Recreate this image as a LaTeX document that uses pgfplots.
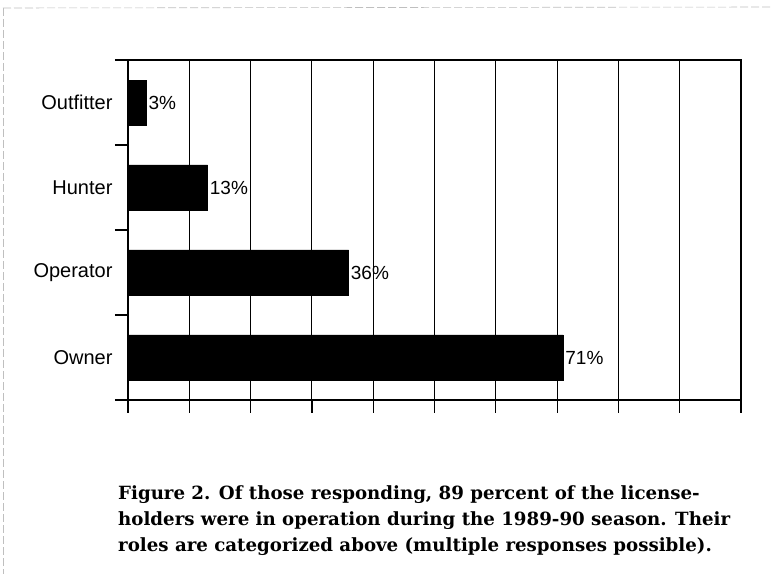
\documentclass[border=0pt]{standalone}
\usepackage{fontspec}
\setmainfont{Liberation Sans}
\newfontfamily\capfont{DejaVu Serif}
\usepackage{pgfplots}
\pgfplotsset{compat=1.18}

\begin{document}
\begin{tikzpicture}[x=1pt,y=1pt]
\path[use as bounding box] (0,0) rectangle (772,574);
% faint frame left by the scan
\draw[gray!50, line width=0.6pt, dash pattern=on 8pt off 3pt] (3,566) -- (3,0);
\draw[gray!50, line width=0.6pt, dash pattern=on 8pt off 3pt] (3,566) -- (772,567);
\begin{axis}[
  at={(128pt,174pt)}, anchor=south west,
  scale only axis, width=613pt, height=340pt,
  xbar, bar width=45pt,
  xmin=0, xmax=100, ymin=-0.5, ymax=3.5,
  xtick={0,10,...,100}, xticklabels={},
  ytick={-0.5,0.5,1.5,2.5,3.5}, yticklabels={},
  extra y ticks={0,1,2,3},
  extra y tick labels={Owner,Operator,Hunter,Outfitter},
  extra y tick style={major tick length=0pt, grid=none,
    yticklabel style={xshift=-12pt}},
  tick align=outside, xtick pos=bottom, ytick pos=left,
  major tick length=13pt,
  tick style={black, line width=1.2pt},
  xmajorgrids=true, ymajorgrids=false,
  grid style={black, line width=1pt},
  axis line style={black, line width=1.8pt},
  tick label style={font=\fontsize{20}{22}\selectfont},
  /pgf/number format/assume math mode=true,
  nodes near coords={\pgfmathprintnumber{\pgfplotspointmeta}\%},
  nodes near coords align=horizontal,
  every node near coord/.append style={font=\fontsize{19}{21}\selectfont, inner sep=2pt, black},
]
\addplot[fill=black, draw=black] coordinates {(71,0) (36,1) (13,2) (3,3)};
\end{axis}
\node[anchor=north west, inner sep=0pt, align=left,
  font=\capfont\bfseries\fontsize{18.2}{26}\selectfont] at (118,89)
  {Figure 2. Of those responding, 89 percent of the license-\\
   holders were in operation during the 1989-90 season. Their\\
   roles are categorized above (multiple responses possible).};
\end{tikzpicture}
\end{document}
